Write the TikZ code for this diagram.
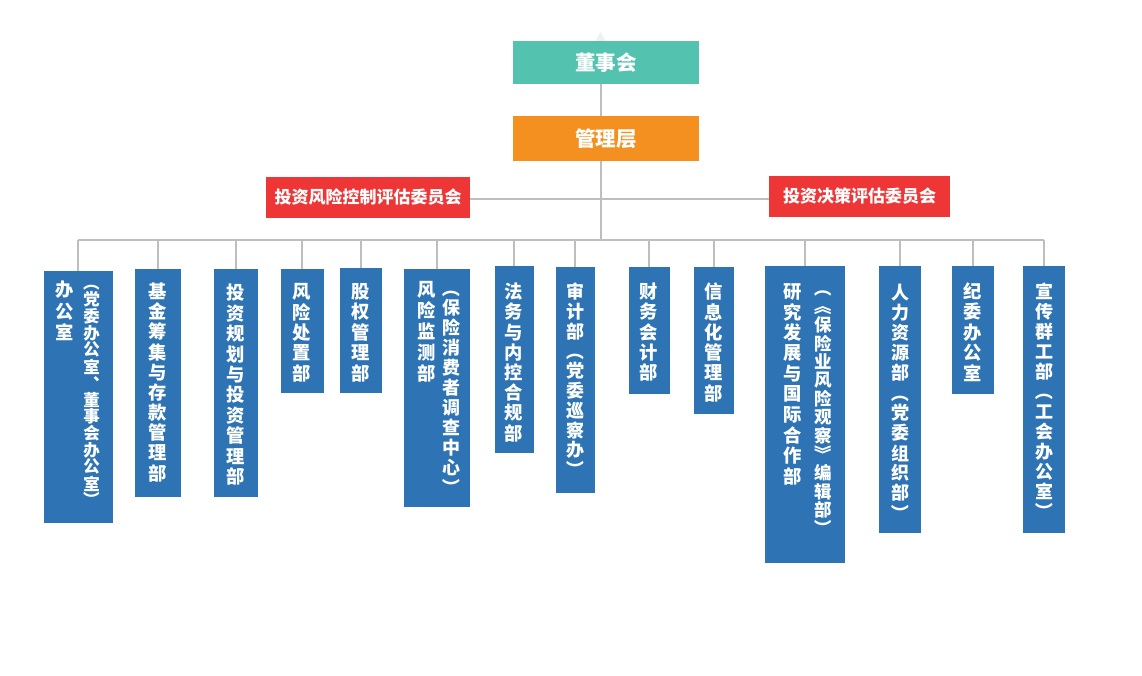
\documentclass[tikz,border=0pt]{standalone}
\usepackage{fontspec}
\usepackage{graphicx}
\setmainfont{Noto Sans CJK SC}
\definecolor{cteal}{HTML}{53C3AF}
\definecolor{corange}{HTML}{F39020}
\definecolor{cred}{HTML}{EE3636}
\definecolor{cblue}{HTML}{2E74B5}
\definecolor{cline}{HTML}{BEBEBE}
\tikzset{
  boxbase/.style={inner sep=0pt, outer sep=0pt, anchor=north west, text=white, font=\bfseries},
  tealbox/.style={boxbase, fill=cteal, font=\fontsize{20.5}{20.5}\selectfont\bfseries},
  orangebox/.style={boxbase, fill=corange, font=\fontsize{20.5}{20.5}\selectfont\bfseries},
  redbox/.style={boxbase, fill=cred, font=\fontsize{17}{17}\selectfont\bfseries},
  bluebox/.style={boxbase, fill=cblue},
  vch/.style={inner sep=0pt, outer sep=0pt, anchor=center, text=white},
  conn/.style={draw=cline, line width=2pt}
}
\newcommand\vbr[1]{\rotatebox[origin=c]{-90}{#1}}
\newcommand\vstack[6]{%
  \foreach \c [count=\i from 0] in {#6} {%
    \node[vch, font=\fontsize{#5}{#5}\selectfont\bfseries] (#1-\i) at (#2,{#3+\i*#4}) {\c};
  }%
}
\begin{document}
\begin{tikzpicture}[x=1pt,y=-1pt]
\useasboundingbox (0,0) rectangle (1142,676);
\fill[white] (0,0) rectangle (1142,676);

% coordinates for the spine, committee line and bus
\coordinate (spine) at (601,0);
\coordinate (hline) at (601,199.5);
\coordinate (bus) at (601,240.5);

% faint tip above the board
\fill[black!6] (595,42) -- (600.5,32) -- (606,42) -- cycle;

% top boxes
\node[tealbox, minimum width=186pt, minimum height=43pt] (dsh) at (513,41) {董事会};
\node[orangebox, minimum width=186pt, minimum height=45pt] (glc) at (513,116) {管理层};
\node[redbox, minimum width=204pt, minimum height=41pt] (r1) at (266,177) {投资风险控制评估委员会};
\node[redbox, minimum width=181pt, minimum height=41pt] (r2) at (769,176) {投资决策评估委员会};

% department boxes
\node[bluebox, minimum width=68.7pt, minimum height=251.7pt] (b1) at (44,271) {};
\node[bluebox, minimum width=45.7pt, minimum height=228pt] (b2) at (135,269) {};
\node[bluebox, minimum width=43.7pt, minimum height=227.7pt] (b3) at (214,269) {};
\node[bluebox, minimum width=42.7pt, minimum height=124pt] (b4) at (281,269) {};
\node[bluebox, minimum width=41.7pt, minimum height=125pt] (b5) at (340,268) {};
\node[bluebox, minimum width=66pt, minimum height=237.7pt] (b6) at (404,269) {};
\node[bluebox, minimum width=38.7pt, minimum height=187pt] (b7) at (495,266) {};
\node[bluebox, minimum width=38.7pt, minimum height=225.7pt] (b8) at (556,267) {};
\node[bluebox, minimum width=40.7pt, minimum height=126.7pt] (b9) at (629,267) {};
\node[bluebox, minimum width=39.7pt, minimum height=146.7pt] (b10) at (694,267) {};
\node[bluebox, minimum width=80pt, minimum height=297pt] (b11) at (765,266) {};
\node[bluebox, minimum width=41.7pt, minimum height=267pt] (b12) at (879,266) {};
\node[bluebox, minimum width=41.7pt, minimum height=127.7pt] (b13) at (952,266) {};
\node[bluebox, minimum width=41.7pt, minimum height=267pt] (b14) at (1023,266) {};

% connectors
\draw[conn] (dsh.south -| spine) -- (glc.north -| spine);
\draw[conn] (glc.south -| spine) -- (bus);
\draw[conn] (r1.east |- hline) -- (r2.west |- hline);
\draw[conn] (b1.north |- bus) -- (b14.north |- bus);
\foreach \b in {b1,b2,b3,b4,b5,b6,b7,b8,b9,b10,b11,b12,b13,b14} {
  \draw[conn] (\b.north |- bus) -- (\b.north);
}

% vertical texts
\vstack{t1a}{65}{290}{21.3}{18.3}{办,公,室}
\vstack{t1b}{91.7}{283}{16.7}{16.5}{\vbr{（},党,委,办,公,室,︑,董,事,会,办,公,室,\vbr{）}}
\vstack{t2}{158}{291.5}{20.2}{18.3}{基,金,筹,集,与,存,款,管,理,部}
\vstack{t3}{236}{293}{20.4}{18.3}{投,资,规,划,与,投,资,管,理,部}
\vstack{t4}{302}{291.5}{20.4}{18.3}{风,险,处,置,部}
\vstack{t5}{361}{291.5}{20.4}{18.3}{股,权,管,理,部}
\vstack{t6a}{426.7}{290}{20.8}{18.3}{风,险,监,测,部}
\vstack{t6b}{451.7}{288}{19.9}{18}{\vbr{（},保,险,消,费,者,调,查,中,心,\vbr{）}}
\vstack{t7}{514}{291.7}{20.2}{18.3}{法,务,与,内,控,合,规,部}
\vstack{t8}{575}{291.7}{19.8}{18}{审,计,部,\vbr{（},党,委,巡,察,办,\vbr{）}}
\vstack{t9}{649}{291.7}{20.3}{18.3}{财,务,会,计,部}
\vstack{t10}{714}{291.7}{20.3}{18.3}{信,息,化,管,理,部}
\vstack{t11a}{793}{291.7}{20.5}{18.3}{研,究,发,展,与,国,际,合,作,部}
\vstack{t11b}{823}{288}{18.5}{17.5}{\vbr{（},\vbr{《},保,险,业,风,险,观,察,\vbr{》},编,辑,部,\vbr{）}}
\vstack{t12}{900}{293}{20}{18}{人,力,资,源,部,\vbr{（},党,委,组,织,部,\vbr{）}}
\vstack{t13}{973}{291.7}{20.3}{18.3}{纪,委,办,公,室}
\vstack{t14}{1044}{291.7}{20}{18}{宣,传,群,工,部,\vbr{（},工,会,办,公,室,\vbr{）}}
\end{tikzpicture}
\end{document}
